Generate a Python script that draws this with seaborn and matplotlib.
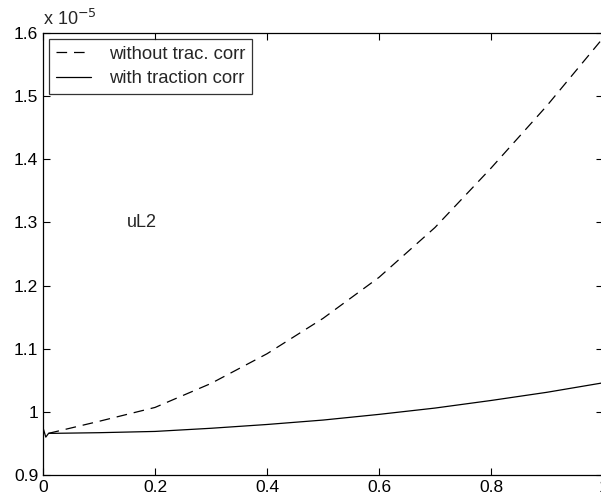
import matplotlib
matplotlib.use("Agg")
import matplotlib.pyplot as plt
import seaborn as sns
import pandas as pd

# values in units of 1e-5
x_without = [0.01, 0.1, 0.2, 0.3, 0.4, 0.5, 0.6, 0.7, 0.8, 0.9, 1.0]
y_without = [0.966, 0.985, 1.007, 1.045, 1.092, 1.148, 1.213, 1.292, 1.386, 1.485, 1.592]

x_with = [0.0, 0.005, 0.01, 0.02, 0.1, 0.2, 0.3, 0.4, 0.5, 0.6, 0.7, 0.8, 0.9, 1.0]
y_with = [0.975, 0.960, 0.966, 0.966, 0.967, 0.969, 0.974, 0.980, 0.987, 0.996, 1.006, 1.018, 1.031, 1.046]

x_ticks = [0, 0.2, 0.4, 0.6, 0.8, 1.0]
x_tick_labels = ["0", "0.2", "0.4", "0.6", "0.8", "1"]
y_ticks = [0.9, 1.0, 1.1, 1.2, 1.3, 1.4, 1.5, 1.6]
y_tick_labels = ["0.9", "1", "1.1", "1.2", "1.3", "1.4", "1.5", "1.6"]

df_without = pd.DataFrame({"x": x_without, "y": y_without})
df_with = pd.DataFrame({"x": x_with, "y": y_with})

sns.set_style("ticks")
plt.rcParams["font.family"] = ["Liberation Sans", "DejaVu Sans"]

fig = plt.figure(figsize=(6.01, 5.04), dpi=100)
ax = fig.add_axes([43 / 601, 1 - 475 / 504, 560 / 601, 442 / 504])

sns.lineplot(data=df_without, x="x", y="y", ax=ax, color="black", linewidth=0.9,
             linestyle=(0, (8.5, 5.5)), label="without trac. corr", sort=False)
sns.lineplot(data=df_with, x="x", y="y", ax=ax, color="black", linewidth=0.9,
             label="with traction corr", sort=False)

ax.set_xlim(0, 1)
ax.set_ylim(0.9, 1.6)
ax.set_xticks(x_ticks)
ax.set_xticklabels(x_tick_labels)
ax.set_yticks(y_ticks)
ax.set_yticklabels(y_tick_labels)
ax.set_xlabel("")
ax.set_ylabel("")
ax.tick_params(direction="in", length=5, width=0.8, labelsize=12.5,
               top=True, right=True, colors="black")
for s in ax.spines.values():
    s.set_visible(True)
    s.set_linewidth(0.9)
    s.set_color("black")

ax.text(0.0, 1.01, r"x 10$^{-5}$", transform=ax.transAxes, fontsize=13,
        ha="left", va="bottom")
ax.text(0.15, 1.3, "uL2", fontsize=13, ha="left", va="center")

leg = ax.legend(loc="upper left", fontsize=13.3, frameon=True, fancybox=False,
                edgecolor="black", borderaxespad=0.35, handlelength=1.9,
                handletextpad=1.0, labelspacing=0.4, borderpad=0.35)
leg.get_frame().set_linewidth(0.9)

fig.savefig("out.png", dpi=100)
